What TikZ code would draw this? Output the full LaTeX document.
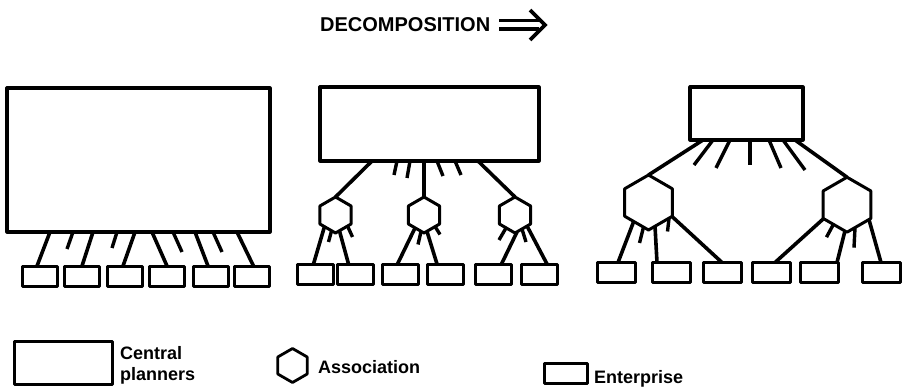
\documentclass[tikz,border=0pt]{standalone}
\usepackage{fontspec}
\setmainfont{Liberation Sans}
\usetikzlibrary{shapes.geometric,calc}
\tikzset{
  planner/.style={draw, line width=3.2pt, rectangle, inner sep=0pt, outer sep=0pt, line join=round},
  enterprise/.style={draw, line width=3pt, rectangle, inner sep=0pt, outer sep=0pt,
    minimum height=20pt, line join=round},
  assoc/.style={draw, line width=3pt, regular polygon, regular polygon sides=6,
    shape border rotate=90, inner sep=0pt, outer sep=0pt, line join=round},
  conn/.style={line width=3.6pt},
  spoke/.style={line width=3.4pt},
  titletext/.style={font=\bfseries\fontsize{20}{22}\selectfont, inner sep=0pt, anchor=base west},
  legendtext/.style={font=\bfseries\fontsize{18}{20}\selectfont, inner sep=0pt, anchor=base west},
}
\begin{document}
\begin{tikzpicture}[x=1pt,y=-1pt]
\useasboundingbox (0,0) rectangle (904,387);

% ---- heading ----
\node[titletext] (title) at (320,32) {DECOMPOSITION};
\coordinate (arrowtail) at (499,25);
\draw[line width=3.4pt] ($(arrowtail)+(0,-4.2)$) -- ++(40,0);
\draw[line width=3.4pt] ($(arrowtail)+(0,4.2)$) -- ++(40,0);
\draw[line width=3.6pt, line join=miter] ($(arrowtail)+(31,-15)$) -- ($(arrowtail)+(46,0)$) -- ($(arrowtail)+(31,15)$);

% ---- stage 1: one planning body over six enterprises ----
\node[planner, minimum width=263pt, minimum height=144pt] (R1) at (138.5,160) {};
\foreach \n/\x in {1/39.5,2/81.5,3/124.5,4/166.5,5/210.5,6/252}
  \node[enterprise, minimum width=35pt] (e1\n) at (\x,276) {};
\draw[conn] ($(R1.south west)+(43,0)$)  -- ($(e11.north)+(-2.5,0)$);
\draw[conn] ($(R1.south west)+(86,0)$)  -- ($(e12.north)+(0.5,0)$);
\draw[conn] ($(R1.south west)+(128,0)$) -- ($(e13.north)+(-1.5,0)$);
\draw[conn] ($(R1.south west)+(145,0)$) -- ($(e14.north)+(0.5,0)$);
\draw[conn] ($(R1.south west)+(188,0)$) -- ($(e15.north)+(-2.5,0)$);
\draw[conn] ($(R1.south west)+(230,0)$) -- ($(e16.north)+(1.5,0)$);
\draw[spoke] ($(R1.south west)+(66,0)$)  -- ++(-6,17);
\draw[spoke] ($(R1.south west)+(110,0)$) -- ++(-5,16);
\draw[spoke] ($(R1.south west)+(166,0)$) -- ++(9,20);
\draw[spoke] ($(R1.south west)+(206,0)$) -- ++(9,20);

% ---- stage 2: planners, three associations, six enterprises ----
\node[planner, minimum width=219pt, minimum height=74pt] (R2) at (429.5,124) {};
\node[assoc, minimum size=36pt] (h21) at (335.5,215) {};
\node[assoc, minimum size=36pt] (h22) at (424,215) {};
\node[assoc, minimum size=36pt] (h23) at (515,215) {};
\foreach \n/\x in {1/315.5,2/355.5,3/400.5,4/445,5/493.5,6/539}
  \node[enterprise, minimum width=36pt] (e2\n) at (\x,274) {};
\draw[conn] ($(R2.south west)+(52,0)$) -- (h21.north);
\draw[conn] (h22.north |- R2.south) -- (h22.north);
\draw[conn] ($(R2.south west)+(158,0)$) -- (h23.north);
\draw[spoke] ($(R2.south west)+(77,0)$)  -- ++(-3,14);
\draw[spoke] ($(R2.south west)+(90,0)$)  -- ++(-3,17);
\draw[spoke] ($(R2.south west)+(117,0)$) -- ++(6,15);
\draw[spoke] ($(R2.south west)+(135,0)$) -- ++(6,14);
% association 1
\draw[conn] ($(h21)+(-11,11.5)$) -- ($(e21.north)+(-2,0)$);
\draw[conn] ($(h21)+(4,16)$) -- ($(e22.north)+(-7,0)$);
\draw[spoke] ($(h21)+(-4,16)$) -- ++(-3,11);
\draw[spoke] ($(h21)+(12,11)$) -- ++(5,11);
% association 2
\draw[conn] ($(h22)+(-9,13)$) -- ($(e23.north)+(-3,0)$);
\draw[conn] ($(h22)+(3,16.5)$) -- ($(e24.north)+(-8,0)$);
\draw[spoke] ($(h22)+(-3,16.5)$) -- ++(-3,13);
\draw[spoke] ($(h22)+(11,11.5)$) -- ++(5,8);
% association 3
\draw[conn] ($(h23)+(2,17)$) -- ($(e25.north)+(8,0)$);
\draw[conn] ($(h23)+(12,11)$) -- ($(e26.north)+(8,0)$);
\draw[spoke] ($(h23)+(-9,13)$) -- ++(-7,12);
\draw[spoke] ($(h23)+(7,14)$) -- ++(4,13);

% ---- stage 3: planners, two associations, six enterprises ----
\node[planner, minimum width=113pt, minimum height=53pt] (R3) at (746.5,113.5) {};
\node[assoc, minimum size=55pt] (hL) at (648.5,202.5) {};
\node[assoc, minimum size=55pt] (hR) at (847,204.7) {};
\foreach \n/\x in {1/616,2/671,3/722,4/771,5/819,6/881}
  \node[enterprise, minimum width=38pt] (e3\n) at (\x,272.5) {};
\draw[conn] ($(R3.south west)+(13,0)$) -- (hL.north);
\draw[conn] ($(R3.south west)+(105,0)$) -- (hR.north);
\draw[spoke] ($(R3.south west)+(23,0)$) -- ++(-19,25);
\draw[spoke] ($(R3.south west)+(40,0)$) -- ++(-14,28);
\draw[spoke] ($(R3.south west)+(60,0)$) -- ++(0,25);
\draw[spoke] ($(R3.south west)+(79,0)$) -- ++(12,28);
\draw[spoke] ($(R3.south west)+(93,0)$) -- ++(22,30);
% left association
\draw[conn] ($(hL)+(-15,19.5)$) -- ($(e31.north)+(2,0)$);
\draw[conn] ($(hL)+(6.5,23.5)$) -- ($(e32.north)+(-14,0)$);
\draw[conn] ($(hL)+(23.5,14)$) -- (e33.north);
\draw[spoke] ($(hL)+(-5,24.5)$) -- ++(-4,16);
\draw[spoke] ($(hL)+(20.5,16)$) -- ++(-1.5,13);
% right association
\draw[conn] ($(hR)+(-23.5,14)$) -- ($(e34.north)+(4,0)$);
\draw[conn] ($(hR)+(-2,26)$) -- ($(e35.north)+(18,0)$);
\draw[conn] ($(hR)+(22,15)$) -- (e36.north);
\draw[spoke] ($(hR)+(-13.5,19.5)$) -- ++(-7,13);
\draw[spoke] ($(hR)+(8,23)$) -- ++(-1,20);

% ---- key ----
\node[planner, line width=3pt, minimum width=98pt, minimum height=43pt] (keyplan) at (63,362.5) {};
\node[legendtext] (keyplantxt) at (120,359) {Central};
\node[legendtext] (keyplantxtb) at (120,380) {planners};
\node[assoc, line width=2.8pt, minimum size=34pt] (keyassoc) at (292.5,365.5) {};
\node[legendtext] (keyassoctxt) at (318,373) {Association};
\node[enterprise, minimum width=43pt] (keyent) at (565.5,373) {};
\node[legendtext] (keyenttxt) at (594,383) {Enterprise};
\end{tikzpicture}
\end{document}
